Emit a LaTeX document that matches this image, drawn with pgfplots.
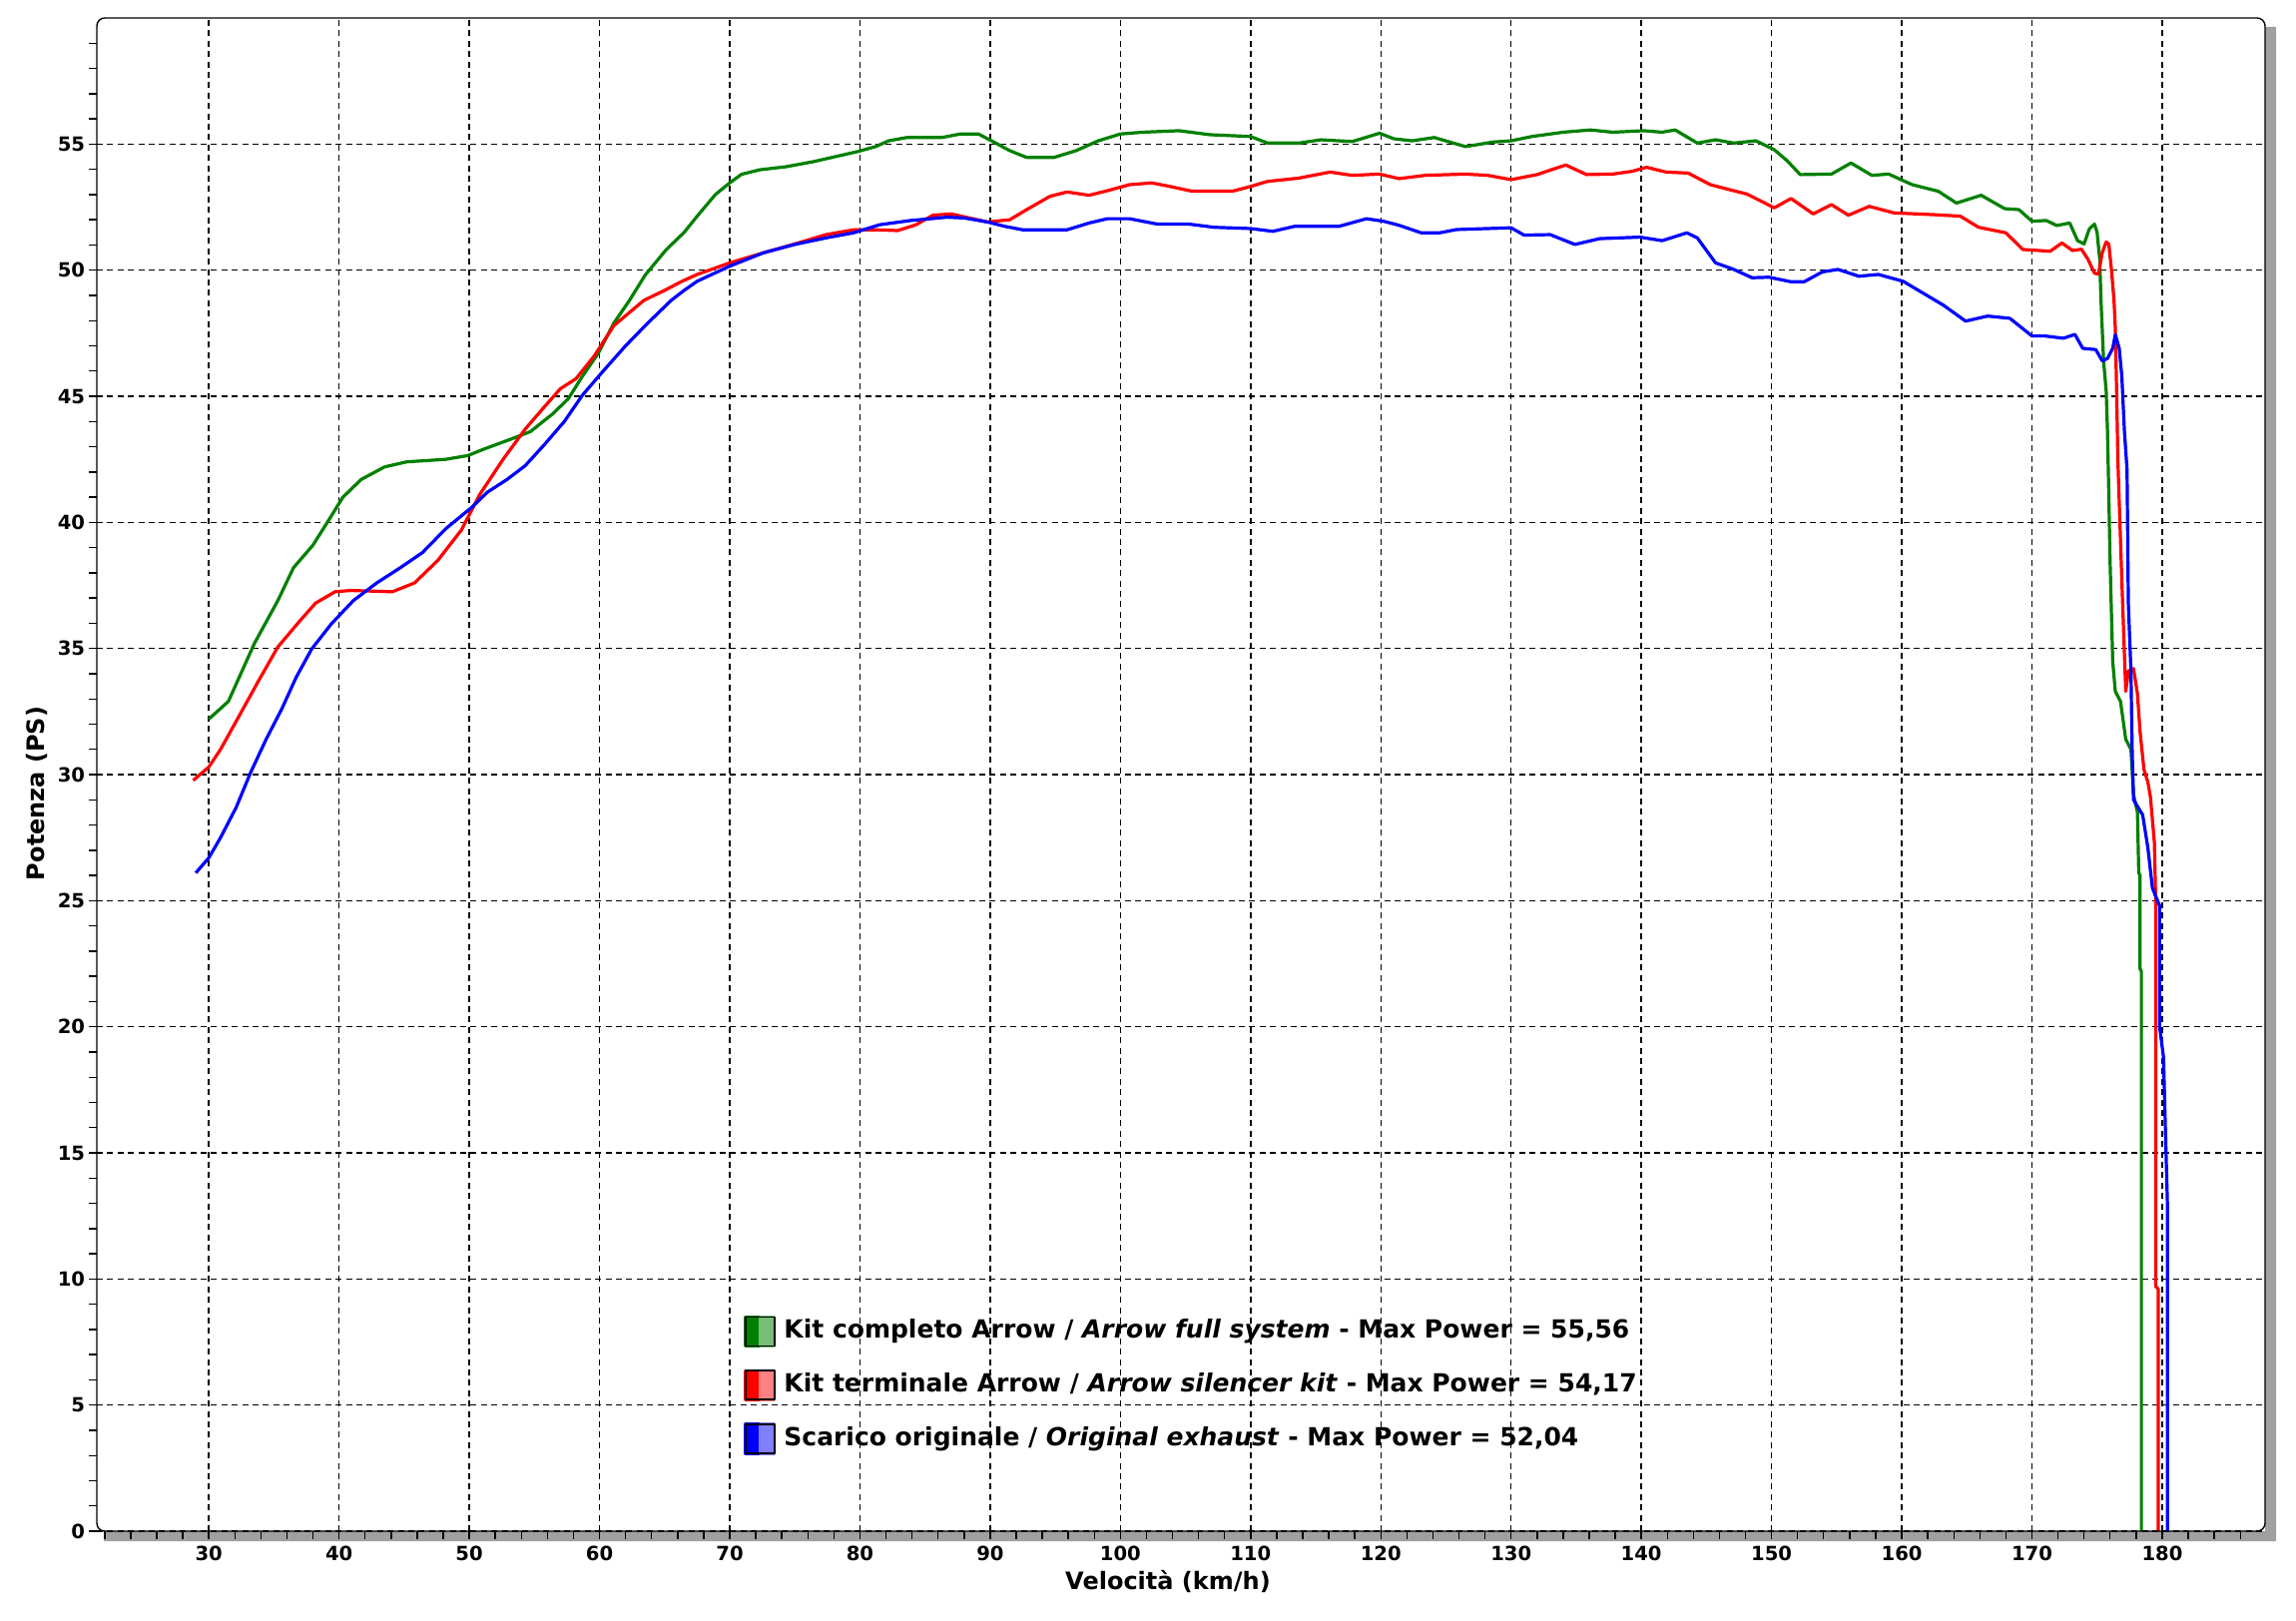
\documentclass[border=0pt]{standalone}
\usepackage{fontspec}
\setmainfont{DejaVu Sans}
\usepackage{pgfplots}
\pgfplotsset{compat=1.18}

\definecolor{cgreen}{RGB}{0,128,0}
\definecolor{cred}{RGB}{255,0,0}
\definecolor{cblue}{RGB}{0,0,255}
\definecolor{lgreen}{RGB}{120,190,120}
\definecolor{lred}{RGB}{255,128,128}
\definecolor{lblue}{RGB}{128,128,255}
\definecolor{shadowgray}{RGB}{160,160,160}

\newcommand\tickfont{\fontsize{9.8}{11}\selectfont\bfseries}
\newcommand\labfont{\fontsize{12}{14}\selectfont\bfseries}
\newcommand\legfont{\fontsize{12.5}{15}\selectfont\bfseries}

\pgfplotsset{swatch/.style 2 args={legend image code/.code={
  \fill[#1] (0pt,-7.25pt) rectangle (7.25pt,7.25pt);
  \fill[#2] (7.25pt,-7.25pt) rectangle (14.5pt,7.25pt);
  \draw[black,line width=0.8pt] (0pt,-7.25pt) rectangle (14.5pt,7.25pt);}}}

\begin{document}
\begin{tikzpicture}
\useasboundingbox (-48.5pt,-44.5pt) rectangle (1101.5pt,767pt);
% drop shadow of the frame
\fill[shadowgray] (3.5pt,-5pt) -- (1091.5pt,-5pt) -- (1091.5pt,753.5pt) -- (1086pt,753.5pt) -- (1086pt,0pt) -- (3.5pt,0pt) -- cycle;
\begin{axis}[
  scale only axis, width=1086pt, height=758pt,
  xmin=21.4, xmax=187.9, ymin=0, ymax=60,
  axis line style={draw=none},
  xtick={30,40,...,180}, ytick={0,5,...,55},
  minor xtick={22,24,...,186}, minor ytick={1,2,...,59},
  xtick pos=left, ytick pos=left,
  tick align=outside,
  major tick length=3.75pt, minor tick length=3.75pt,
  every tick/.style={black, line width=0.7pt},
  grid=major,
  major grid style={black, line width=0.75pt, dash pattern=on 3pt off 2.2pt},
  ticklabel style={font=\tickfont},
  /pgf/number format/assume math mode=true,
  yticklabel style={inner sep=2pt},
  xlabel={Velocità (km/h)}, ylabel={Potenza (PS)},
  xlabel style={at={(axis description cs:0.494,-0.033)}, anchor=center, font=\labfont},
  ylabel style={at={(axis description cs:-0.0276,0.4875)}, anchor=center, font=\labfont},
  legend cell align=left,
  legend style={at={(axis cs:71.06,8.574)}, anchor=north west, draw=none, fill=none,
    font=\legfont, inner sep=0pt, row sep=10.8pt, column sep=3pt,
    nodes={inner sep=1pt, text height=9.5pt, text depth=2.5pt}},
]
\addplot[cgreen, line width=1.6pt, line join=round, no markers, swatch={cgreen}{lgreen}] coordinates {
(30.0,32.2) (31.5,32.9) (33.5,35.2) (35.3,36.9) (36.5,38.2) (38.0,39.1) (39.1,40.0) (40.3,41.0)
(41.7,41.7) (43.5,42.2) (45.2,42.4) (48.2,42.5) (49.9,42.65) (51.1,42.9) (53.2,43.3) (54.7,43.6)
(56.4,44.3) (57.6,44.9) (58.7,45.8) (59.9,46.7) (61.1,47.9) (62.3,48.8) (63.5,49.8) (65.1,50.8)
(66.5,51.5) (67.5,52.14) (68.9,53.0) (70.0,53.46) (70.9,53.8) (72.3,53.98) (74.3,54.1) (76.4,54.3)
(78.1,54.5) (79.8,54.7) (81.2,54.9) (82.2,55.13) (83.6,55.26) (86.3,55.26) (87.7,55.4) (89.1,55.4)
(90.1,55.13) (91.5,54.74) (92.8,54.47) (94.9,54.47) (96.6,54.74) (98.3,55.13) (100.0,55.4)
(101.7,55.47) (104.5,55.53) (106.9,55.37) (110.0,55.3) (111.3,55.04) (113.7,55.04) (115.4,55.17)
(117.8,55.1) (119.9,55.43) (121.0,55.21) (122.4,55.13) (124.1,55.26) (126.5,54.9) (128.6,55.08)
(130.0,55.13) (131.6,55.3) (134.0,55.47) (136.1,55.56) (137.8,55.47) (140.2,55.53) (141.6,55.47)
(142.6,55.56) (144.3,55.04) (145.7,55.17) (147.1,55.04) (148.8,55.13) (150.2,54.78) (151.2,54.34)
(152.2,53.79) (154.6,53.81) (156.1,54.25) (157.7,53.76) (159.0,53.81) (160.8,53.39) (162.8,53.13)
(164.2,52.66) (166.1,52.97) (167.9,52.44) (169.0,52.4) (170.0,51.94) (171.1,51.97) (171.9,51.77)
(172.9,51.87) (173.5,51.17) (174.0,51.04) (174.4,51.63) (174.8,51.83) (175.0,51.5) (175.2,50.45)
(175.3,48.8) (175.5,46.4) (175.7,45.2) (175.8,43.6) (175.9,41.1) (176.0,38.4) (176.2,34.5)
(176.4,33.3) (176.8,32.9) (177.2,31.4) (177.6,31.0) (177.8,29.2) (178.1,28.5) (178.2,26.1)
(178.3,26.0) (178.3,22.3) (178.4,22.2) (178.4,0)
};
\addlegendentry{Kit completo Arrow / \textit{Arrow full system} - Max Power = 55,56}
\addplot[cred, line width=1.6pt, line join=round, no markers, swatch={cred}{lred}] coordinates {
(28.8,29.77) (30.0,30.3) (30.9,31.0) (32.3,32.3) (33.8,33.7) (35.3,35.06) (37.0,36.1) (38.2,36.8)
(39.7,37.25) (40.9,37.3) (44.1,37.25) (45.8,37.6) (47.6,38.5) (49.4,39.7) (50.8,41.1) (52.6,42.5)
(54.3,43.7) (55.8,44.6) (57.0,45.3) (58.2,45.7) (59.6,46.6) (61.1,47.8) (63.4,48.8) (65.0,49.2)
(66.3,49.55) (67.5,49.83) (70.0,50.29) (72.6,50.69) (75.0,51.04) (77.4,51.41) (79.5,51.6)
(81.2,51.6) (82.9,51.57) (84.3,51.8) (85.6,52.18) (87.0,52.23) (88.4,52.07) (89.8,51.91)
(91.5,52.0) (92.8,52.4) (94.6,52.93) (95.9,53.1) (97.6,52.97) (99.0,53.15) (100.7,53.39)
(102.4,53.46) (103.8,53.32) (105.5,53.13) (108.6,53.13) (110.0,53.32) (111.3,53.52) (113.7,53.65)
(116.1,53.89) (117.8,53.76) (119.9,53.81) (121.4,53.63) (123.4,53.76) (126.5,53.81) (128.2,53.76)
(130.0,53.59) (132.0,53.79) (133.2,54.0) (134.2,54.17) (135.8,53.79) (137.8,53.81) (139.3,53.92)
(140.4,54.08) (141.9,53.89) (143.6,53.85) (145.3,53.39) (147.1,53.15) (148.1,53.02) (149.5,52.66)
(150.2,52.47) (151.5,52.84) (153.2,52.23) (154.6,52.6) (155.9,52.18) (157.5,52.53) (159.4,52.27)
(162.5,52.2) (164.5,52.14) (165.9,51.7) (168.0,51.48) (169.3,50.82) (171.4,50.75) (172.3,51.08)
(173.1,50.78) (173.8,50.83) (174.3,50.43) (174.8,49.88) (175.1,49.84) (175.4,50.7) (175.7,51.12)
(175.9,51.03) (176.1,50.04) (176.3,48.8) (176.4,47.7) (176.5,45.2) (176.6,42.4) (176.9,37.7)
(177.2,33.3) (177.4,34.1) (177.8,34.2) (178.1,33.2) (178.3,31.7) (178.6,30.2) (178.9,29.7)
(179.1,29.1) (179.4,27.3) (179.5,25.0) (179.5,9.7) (179.7,9.6) (179.7,0)
};
\addlegendentry{Kit terminale Arrow / \textit{Arrow silencer kit} - Max Power = 54,17}
\addplot[cblue, line width=1.6pt, line join=round, no markers, swatch={cblue}{lblue}] coordinates {
(29.0,26.1) (30.0,26.7) (30.9,27.5) (32.1,28.7) (33.2,30.07) (34.4,31.4) (35.6,32.6) (36.7,33.85)
(37.9,34.98) (39.4,35.97) (41.1,36.9) (42.9,37.6) (44.7,38.2) (46.4,38.8) (48.2,39.75) (50.2,40.6)
(51.4,41.2) (52.9,41.7) (54.3,42.25) (55.8,43.1) (57.3,44.0) (58.7,45.05) (60.2,45.95) (62.0,47.0)
(63.7,47.9) (65.5,48.8) (66.5,49.2) (67.5,49.56) (70.0,50.16) (72.6,50.69) (75.0,51.02) (77.4,51.28)
(79.5,51.48) (81.5,51.8) (83.9,51.97) (86.7,52.1) (88.0,52.07) (89.8,51.91) (91.1,51.74)
(92.5,51.6) (95.9,51.6) (97.6,51.87) (99.0,52.04) (100.7,52.04) (102.8,51.83) (105.2,51.83)
(107.2,51.7) (110.0,51.65) (111.7,51.54) (113.4,51.74) (116.8,51.74) (118.9,52.04) (120.2,51.94)
(121.4,51.78) (123.1,51.48) (124.5,51.48) (125.8,51.61) (130.0,51.68) (131.0,51.39) (133.0,51.41)
(134.9,51.02) (136.8,51.25) (139.9,51.31) (141.6,51.17) (143.5,51.48) (144.3,51.28) (145.7,50.29)
(147.1,50.03) (148.5,49.7) (149.8,49.72) (151.5,49.54) (152.5,49.54) (153.9,49.93) (155.1,50.03)
(156.7,49.76) (158.2,49.83) (160.1,49.56) (161.8,49.04) (163.2,48.61) (164.9,47.98) (166.6,48.18)
(168.3,48.09) (170.0,47.39) (171.0,47.39) (172.4,47.3) (173.3,47.45) (173.9,46.9) (174.9,46.85)
(175.4,46.4) (175.8,46.5) (176.2,46.9) (176.4,47.45) (176.7,46.9) (176.9,45.8) (177.1,43.6)
(177.3,42.1) (177.4,36.8) (177.6,34.1) (177.7,30.8) (177.8,29.0) (178.5,28.4) (178.9,27.1)
(179.25,25.5) (179.8,24.8) (179.8,20.0) (180.1,18.8) (180.3,14.9) (180.4,13.0) (180.4,0)
};
\addlegendentry{Scarico originale / \textit{Original exhaust} - Max Power = 52,04}
\end{axis}
\draw[black, line width=0.7pt, rounded corners=4pt] (0pt,0pt) rectangle (1086pt,758pt);
\end{tikzpicture}
\end{document}
